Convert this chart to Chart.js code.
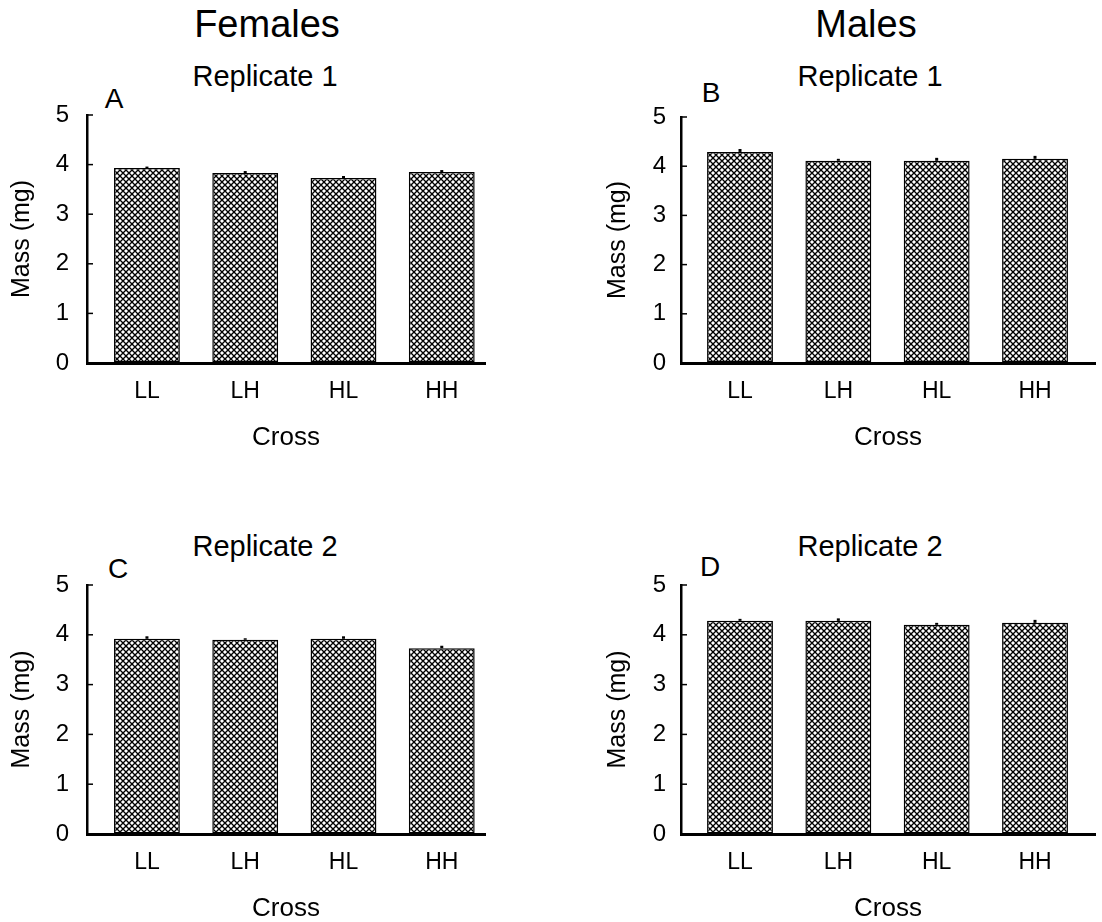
<!DOCTYPE html>
<html>
<head>
<meta charset="utf-8">
<script src="https://cdn.jsdelivr.net/npm/chart.js@4.4.1/dist/chart.umd.min.js"></script>
<style>
  body { margin: 0; background: #fff; }
  #page { position: relative; width: 1102px; height: 922px; overflow: hidden; font-family: 'Liberation Sans', Arial, Helvetica, sans-serif; color: #000; }
  canvas { position: absolute; }
  .lbl { position: absolute; line-height: 1; white-space: nowrap; transform: translate(-50%, -50%); }
</style>
</head>
<body>
<div id="page">
  <div class="lbl" style="left:267px; top:24px; font-size:38px;">Females</div>
  <div class="lbl" style="left:866px; top:24px; font-size:38px;">Males</div>
  <div class="lbl" style="left:265px; top:76px; font-size:29px;">Replicate 1</div>
  <div class="lbl" style="left:870px; top:76px; font-size:29px;">Replicate 1</div>
  <div class="lbl" style="left:265px; top:546px; font-size:29px;">Replicate 2</div>
  <div class="lbl" style="left:870px; top:546px; font-size:29px;">Replicate 2</div>
  <div class="lbl" style="left:114px; top:99px; font-size:28px;">A</div>
  <div class="lbl" style="left:711px; top:93px; font-size:28px;">B</div>
  <div class="lbl" style="left:118px; top:569px; font-size:28px;">C</div>
  <div class="lbl" style="left:710px; top:567px; font-size:28px;">D</div>

  <canvas id="chartA" width="545" height="420" style="left:0; top:50px;"></canvas>
  <canvas id="chartB" width="551" height="420" style="left:551px; top:50px;"></canvas>
  <canvas id="chartC" width="545" height="420" style="left:0; top:520px;"></canvas>
  <canvas id="chartD" width="551" height="420" style="left:551px; top:520px;"></canvas>
</div>

<script>
// Chart values
const crosses = ['LL', 'LH', 'HL', 'HH'];
const yTicks = [0, 1, 2, 3, 4, 5];

const femalesRep1 = [3.93, 3.83, 3.73, 3.85];
const femalesRep1Err = [0.03, 0.04, 0.04, 0.04];
const malesRep1 = [4.29, 4.11, 4.11, 4.15];
const malesRep1Err = [0.06, 0.04, 0.06, 0.06];
const femalesRep2 = [3.92, 3.90, 3.92, 3.73];
const femalesRep2Err = [0.05, 0.03, 0.05, 0.05];
const malesRep2 = [4.28, 4.28, 4.20, 4.24];
const malesRep2Err = [0.04, 0.05, 0.04, 0.06];

const FONT = "'Liberation Sans', Arial, Helvetica, sans-serif";

// crosshatch fill like the printed bars
function makeHatch() {
    const c = document.createElement('canvas');
    c.width = 6;
    c.height = 6;
    const g = c.getContext('2d');
    g.fillStyle = '#fff';
    g.fillRect(0, 0, 6, 6);
    g.strokeStyle = '#000';
    g.lineWidth = 1.35;
    g.beginPath();
    g.moveTo(0, 0); g.lineTo(6, 6);
    g.moveTo(6, 0); g.lineTo(0, 6);
    g.stroke();
    return g.createPattern(c, 'repeat');
}

// small SE bar on top of each column
const errorBars = {
    id: 'errorBars',
    afterDatasetsDraw(chart) {
        const ctx = chart.ctx;
        const yScale = chart.scales.y;
        chart.data.datasets.forEach((ds, di) => {
            const meta = chart.getDatasetMeta(di);
            meta.data.forEach((bar, i) => {
                const v = ds.data[i].y;
                const top = yScale.getPixelForValue(v + ds.errors[i]);
                const base = yScale.getPixelForValue(v);
                ctx.save();
                ctx.strokeStyle = '#000';
                ctx.lineWidth = 3;
                ctx.beginPath();
                ctx.moveTo(bar.x, base);
                ctx.lineTo(bar.x, top);
                ctx.stroke();
                ctx.restore();
            });
        });
    }
};

// tick marks point into the plot on the y axis
const innerTicks = {
    id: 'innerTicks',
    afterDraw(chart) {
        const ctx = chart.ctx;
        const yScale = chart.scales.y;
        const left = chart.chartArea.left;
        ctx.save();
        ctx.strokeStyle = '#000';
        ctx.lineWidth = 1.5;
        yScale.ticks.forEach(t => {
            const y = yScale.getPixelForValue(t.value);
            ctx.beginPath();
            ctx.moveTo(left, y);
            ctx.lineTo(left + 6, y);
            ctx.stroke();
        });
        ctx.restore();
    }
};

function createPanel(id, values, errors, opts) {
    const canvas = document.getElementById(id);
    const ctx = canvas.getContext('2d');

    const points = values.map((v, i) => ({ x: i, y: v }));

    new Chart(ctx, {
        type: 'bar',
        data: {
            datasets: [{
                data: points,
                errors: errors,
                backgroundColor: makeHatch(),
                borderColor: '#000',
                borderWidth: 1.5,
                borderSkipped: false,
                barPercentage: 0.67,
                categoryPercentage: 1
            }]
        },
        options: {
            responsive: false,
            animation: false,
            events: [],
            layout: {
                padding: { top: opts.padTop, right: opts.padRight, bottom: opts.padBottom, left: 0 }
            },
            plugins: {
                legend: { display: false },
                tooltip: { enabled: false }
            },
            scales: {
                x: {
                    type: 'linear',
                    offset: false,
                    min: opts.xMin,
                    max: opts.xMax,
                    afterBuildTicks: scale => {
                        scale.ticks = crosses.map((c, i) => ({ value: i }));
                    },
                    afterFit: scale => { scale.height = 100; },
                    ticks: {
                        autoSkip: false,
                        maxRotation: 0,
                        padding: 15,
                        color: '#000',
                        font: { family: FONT, size: 23 },
                        callback: v => crosses[v]
                    },
                    grid: { offset: false, drawOnChartArea: false, drawTicks: false },
                    border: { display: true, color: '#000', width: 3 },
                    title: {
                        display: true,
                        text: 'Cross',
                        color: '#000',
                        font: { family: FONT, size: 26 },
                        padding: { top: 0, bottom: 10 }
                    }
                },
                y: {
                    min: 0,
                    max: 5,
                    afterBuildTicks: scale => {
                        scale.ticks = yTicks.map(v => ({ value: v }));
                    },
                    afterFit: scale => { scale.width = opts.yWidth; },
                    ticks: {
                        padding: opts.tickPad,
                        color: '#000',
                        font: { family: FONT, size: 24 }
                    },
                    grid: { drawOnChartArea: false, drawTicks: false },
                    border: { display: true, color: '#000', width: 2.5 },
                    title: {
                        display: true,
                        text: 'Mass (mg)',
                        color: '#000',
                        font: { family: FONT, size: 25 },
                        padding: { top: opts.yTitlePad, bottom: 0 }
                    }
                }
            }
        },
        plugins: [errorBars, innerTicks]
    });
}

document.addEventListener('DOMContentLoaded', function() {
    createPanel('chartA', femalesRep1, femalesRep1Err,
        { padTop: 65, padRight: 60, padBottom: 7, yWidth: 87, tickPad: 18, yTitlePad: 7, xMin: -0.61, xMax: 3.44 });
    createPanel('chartB', malesRep1, malesRep1Err,
        { padTop: 67, padRight: 7, padBottom: 7, yWidth: 130, tickPad: 15, yTitlePad: 52, xMin: -0.6, xMax: 3.61 });
    createPanel('chartC', femalesRep2, femalesRep2Err,
        { padTop: 65, padRight: 60, padBottom: 6, yWidth: 87, tickPad: 18, yTitlePad: 7, xMin: -0.61, xMax: 3.44 });
    createPanel('chartD', malesRep2, malesRep2Err,
        { padTop: 65, padRight: 7, padBottom: 6, yWidth: 130, tickPad: 15, yTitlePad: 52, xMin: -0.6, xMax: 3.61 });
});
</script>
</body>
</html>
